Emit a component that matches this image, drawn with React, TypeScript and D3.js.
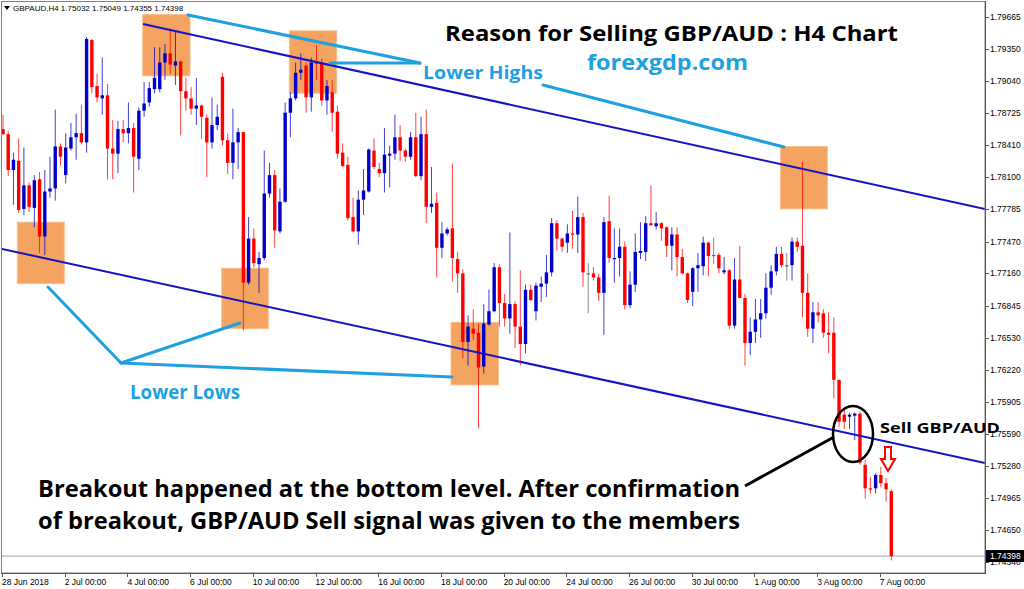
import React from 'react';
import * as d3 from 'd3';

// GBPAUD H4 bars (index 0 = 28 Jun 2018 ... 170 = 7 Aug 2018 08:00)
const opens = [
  1.7857,1.7852,1.7817,1.7826,1.7779,1.7802,1.7780,1.7808,1.7752,1.7796,
  1.7799,1.7840,1.7812,1.7838,1.7849,1.7853,1.7844,1.7944,1.7899,1.7887,
  1.7890,1.7838,1.7833,1.7857,1.7853,1.7858,1.7828,1.7875,1.7883,1.7896,
  1.7896,1.7922,1.7931,1.7919,1.7923,1.7894,1.7887,1.7877,1.7880,1.7868,
  1.7844,1.7861,1.7908,1.7846,1.7824,1.7844,1.7854,1.7707,1.7750,1.7725,
  1.7731,1.7794,1.7812,1.7757,1.7786,1.7873,1.7887,1.7912,1.7919,1.7888,
  1.7923,1.7922,1.7885,1.7893,1.7874,1.7834,1.7822,1.7771,1.7757,1.7788,
  1.7796,1.7836,1.7818,1.7814,1.7831,1.7833,1.7849,1.7836,1.7830,1.7849,
  1.7811,1.7852,1.7781,1.7785,1.7741,1.7755,1.7760,1.7730,1.7716,1.7649,
  1.7662,1.7658,1.7625,1.7666,1.7679,1.7722,1.7687,1.7672,1.7686,1.7664,
  1.7647,1.7700,1.7679,1.7703,1.7706,1.7717,1.7765,1.7750,1.7746,1.7755,
  1.7754,1.7771,1.7716,1.7716,1.7712,1.7697,1.7767,1.7730,1.7731,1.7742,
  1.7685,1.7705,1.7736,1.7737,1.7765,1.7762,1.7765,1.7761,1.7743,1.7754,
  1.7732,1.7716,1.7698,1.7721,1.7723,1.7746,1.7734,1.7734,1.7717,1.7719,
  1.7665,1.7710,1.7692,1.7648,1.7659,1.7671,1.7677,1.7702,1.7718,1.7735,
  1.7724,1.7724,1.7747,1.7743,1.7697,1.7662,1.7678,1.7677,1.7658,1.7658,
  1.7612,1.7578,1.7576,1.7577,1.7579,1.7529,1.7506,1.7506,1.7519,1.7511,1.75032,
];
const highs = [
  1.7871,1.7855,1.7834,1.7848,1.7839,1.7805,1.7812,1.7815,1.7817,1.7830,
  1.7876,1.7843,1.7853,1.7863,1.7872,1.7881,1.7947,1.7945,1.7911,1.7927,
  1.7901,1.7866,1.7865,1.7866,1.7883,1.7863,1.7878,1.7903,1.7903,1.7937,
  1.7937,1.7940,1.7955,1.7952,1.7924,1.7907,1.7898,1.7907,1.7881,1.7871,
  1.7888,1.7881,1.7912,1.7853,1.7877,1.7858,1.7854,1.7771,1.7760,1.7737,
  1.7836,1.7824,1.7817,1.7799,1.7883,1.7893,1.7922,1.7931,1.7922,1.7927,
  1.7939,1.7926,1.7905,1.7905,1.7880,1.7843,1.7830,1.7790,1.7797,1.7818,
  1.7838,1.7848,1.7824,1.7858,1.7841,1.7871,1.7861,1.7838,1.7854,1.7873,
  1.7869,1.7876,1.7820,1.7795,1.7766,1.7761,1.7823,1.7737,1.7720,1.7675,
  1.7681,1.7667,1.7686,1.7700,1.7726,1.7725,1.7696,1.7756,1.7689,1.7719,
  1.7705,1.7705,1.7707,1.7713,1.7734,1.7770,1.7768,1.7751,1.7764,1.7777,
  1.7791,1.7775,1.7726,1.7722,1.7716,1.7771,1.7792,1.7760,1.7760,1.7747,
  1.7718,1.7755,1.7766,1.7772,1.7802,1.7776,1.7766,1.7762,1.7761,1.7761,
  1.7740,1.7717,1.7722,1.7736,1.7752,1.7747,1.7751,1.7736,1.7732,1.7720,
  1.7731,1.7743,1.7696,1.7673,1.7691,1.7691,1.7716,1.7724,1.7742,1.7742,
  1.7736,1.7751,1.7751,1.7825,1.7716,1.7688,1.7688,1.7681,1.7678,1.7673,
  1.7612,1.7583,1.7580,1.7580,1.7581,1.7534,1.7517,1.7521,1.7527,1.7516,1.75049,
];
const lows = [
  1.7851,1.7811,1.7783,1.7775,1.7773,1.7776,1.7761,1.7736,1.7734,1.7790,
  1.7787,1.7821,1.7804,1.7836,1.7827,1.7842,1.7834,1.7892,1.7883,1.7871,
  1.7808,1.7808,1.7814,1.7844,1.7843,1.7795,1.7817,1.7869,1.7879,1.7892,
  1.7893,1.7905,1.7911,1.7900,1.7851,1.7875,1.7871,1.7861,1.7847,1.7810,
  1.7838,1.7856,1.7841,1.7813,1.7808,1.7818,1.7660,1.7705,1.7722,1.7697,
  1.7729,1.7790,1.7741,1.7755,1.7785,1.7849,1.7885,1.7905,1.7873,1.7874,
  1.7905,1.7880,1.7871,1.7854,1.7828,1.7820,1.7768,1.7756,1.7744,1.7773,
  1.7795,1.7818,1.7810,1.7795,1.7800,1.7827,1.7826,1.7825,1.7827,1.7810,
  1.7807,1.7765,1.7775,1.7712,1.7731,1.7753,1.7708,1.7697,1.7633,1.7626,
  1.7651,1.7565,1.7618,1.7665,1.7678,1.7664,1.7664,1.7657,1.7643,1.7626,
  1.7638,1.7689,1.7670,1.7688,1.7693,1.7713,1.7738,1.7737,1.7736,1.7740,
  1.7736,1.7703,1.7677,1.7709,1.7689,1.7656,1.7726,1.7707,1.7713,1.7681,
  1.7682,1.7698,1.7730,1.7728,1.7763,1.7759,1.7748,1.7732,1.7719,1.7713,
  1.7715,1.7687,1.7684,1.7698,1.7714,1.7713,1.7725,1.7716,1.7715,1.7662,
  1.7662,1.7692,1.7626,1.7636,1.7648,1.7653,1.7672,1.7695,1.7714,1.7722,
  1.7709,1.7709,1.7737,1.7673,1.7654,1.7648,1.7668,1.7653,1.7638,1.7594,
  1.7566,1.7564,1.7564,1.7553,1.7529,1.7496,1.7501,1.7501,1.7507,1.7493,1.74355,
];
const closes = [
  1.7852,1.7817,1.7827,1.7778,1.7802,1.7781,1.7807,1.7752,1.7796,1.7799,
  1.7840,1.7830,1.7839,1.7849,1.7853,1.7844,1.7945,1.7898,1.7888,1.7890,
  1.7838,1.7833,1.7857,1.7853,1.7858,1.7830,1.7875,1.7882,1.7897,1.7907,
  1.7922,1.7931,1.7920,1.7923,1.7894,1.7887,1.7877,1.7880,1.7869,1.7844,
  1.7861,1.7869,1.7846,1.7824,1.7844,1.7854,1.7707,1.7750,1.7726,1.7731,
  1.7794,1.7812,1.7758,1.7786,1.7873,1.7887,1.7912,1.7915,1.7888,1.7922,
  1.7921,1.7885,1.7899,1.7873,1.7833,1.7821,1.7770,1.7757,1.7788,1.7797,
  1.7837,1.7820,1.7814,1.7832,1.7833,1.7849,1.7836,1.7830,1.7849,1.7811,
  1.7852,1.7781,1.7784,1.7741,1.7755,1.7759,1.7731,1.7716,1.7649,1.7664,
  1.7657,1.7624,1.7667,1.7679,1.7722,1.7687,1.7672,1.7686,1.7664,1.7647,
  1.7700,1.7690,1.7704,1.7706,1.7717,1.7765,1.7750,1.7742,1.7755,1.7754,
  1.7771,1.7717,1.7716,1.7712,1.7697,1.7766,1.7731,1.7731,1.7742,1.7685,
  1.7705,1.7737,1.7738,1.7765,1.7763,1.7765,1.7760,1.7743,1.7754,1.7732,
  1.7716,1.7690,1.7721,1.7724,1.7746,1.7733,1.7734,1.7721,1.7719,1.7665,
  1.7710,1.7692,1.7648,1.7659,1.7671,1.7677,1.7702,1.7718,1.7735,1.7724,
  1.7724,1.7747,1.7742,1.7697,1.7662,1.7678,1.7675,1.7658,1.7656,1.7612,
  1.7571,1.7571,1.7578,1.7579,1.7531,1.7506,1.7505,1.7519,1.7511,1.7505,1.74398,
];

const timeTickBars = [0, 12, 24, 36, 48, 60, 72, 84, 96, 108, 120, 132, 144, 156, 168];
const timeTickLabels = [
  '28 Jun 2018', '2 Jul 00:00', '4 Jul 00:00', '6 Jul 00:00', '10 Jul 00:00',
  '12 Jul 00:00', '16 Jul 00:00', '18 Jul 00:00', '20 Jul 00:00', '24 Jul 00:00',
  '26 Jul 00:00', '30 Jul 00:00', '1 Aug 00:00', '3 Aug 00:00', '7 Aug 00:00',
];
const priceTicks = [
  1.79665, 1.7935, 1.7904, 1.78725, 1.7841, 1.781, 1.77785, 1.7747, 1.7716,
  1.76845, 1.7653, 1.7622, 1.75905, 1.7559, 1.7528, 1.74965, 1.7465, 1.7434,
];
const lastPrice = 1.74398;
const headerText = 'GBPAUD,H4  1.75032 1.75049 1.74355 1.74398';

// annotation rectangles: [bar start, bar end, price top, price bottom]
const zoneBoxes = [
  [2.74, 11.73, 1.7766, 1.7706],
  [26.74, 35.79, 1.7969, 1.7909],
  [54.8, 63.87, 1.7953, 1.7892],
  [41.86, 50.78, 1.7721, 1.7662],
  [85.74, 94.8, 1.7668, 1.7607],
  [148.77, 157.76, 1.784, 1.7779],
];
// channel lines: [bar, price, bar, price]
const channelLines = [
  [26.79, 1.79597, 187.94, 1.77789],
  [-0.574, 1.77403, 187.94, 1.75307],
];

const BLUE = '#0000c8';
const RED = '#ff0000';
const LIGHT = '#1fa0e0';
const CHAN = '#1414c4';

export default function App() {
  const W = 1024, H = 589;
  const plotR = 985, plotB = 573;
  const x = d3.scaleLinear().domain([0, 170]).range([3, 891.3]);
  const y = d3.scaleLinear().domain([1.7434, 1.79665]).range([562, 17]);
  const bodyW = 3.4;

  const bars = d3.range(Math.min(opens.length, highs.length, lows.length, closes.length));

  return (
    <div style={{ position: 'absolute', left: 0, top: 0, width: W, height: H, background: '#fff' }}>
      <svg width={W} height={H} style={{ display: 'block' }} fontFamily="'Liberation Sans', Arial, sans-serif">
        <defs>
          <clipPath id="plot">
            <rect x={1.5} y={1.5} width={plotR - 1.5} height={plotB - 1.5} />
          </clipPath>
        </defs>
        <rect x={0} y={0} width={W} height={H} fill="#fff" />

        <g clipPath="url(#plot)">
          {zoneBoxes.map((b, i) => (
            <rect key={'z' + i} x={x(b[0])} y={y(b[2])} width={x(b[1]) - x(b[0])} height={y(b[3]) - y(b[2])}
              fill="#f4a460" stroke="#f6c090" strokeWidth={1} />
          ))}

          {/* last price line */}
          <line x1={0} x2={plotR} y1={y(lastPrice)} y2={y(lastPrice)} stroke="#a0a0a8" strokeWidth={1} />

          {bars.map((i) => {
            const o = opens[i], c = closes[i], h = highs[i], l = lows[i];
            const col = c > o ? BLUE : c < o ? RED : '#666';
            const cx = x(i);
            const top = y(Math.max(o, c));
            const bh = Math.max(1.2, y(Math.min(o, c)) - top);
            return (
              <g key={'b' + i}>
                <line x1={cx} x2={cx} y1={y(h)} y2={y(l)} stroke={col} strokeWidth={1} strokeOpacity={0.75} />
                <rect x={cx - bodyW / 2} y={top} width={bodyW} height={bh} fill={col} />
              </g>
            );
          })}

          {channelLines.map((c, i) => (
            <line key={'c' + i} x1={x(c[0])} y1={y(c[1])} x2={x(c[2])} y2={y(c[3])} stroke={CHAN} strokeWidth={2} />
          ))}

          {/* light blue pointer lines */}
          <g stroke={LIGHT} strokeWidth={3} strokeLinecap="round" fill="none">
            <line x1={188} y1={15} x2={420} y2={63} />
            <line x1={330} y1={63} x2={420} y2={63} />
            <line x1={543} y1={85} x2={784} y2={147} />
            <line x1={48} y1={287} x2={121} y2={363} />
            <line x1={121} y1={363} x2={240} y2={323} />
            <line x1={121} y1={363} x2={452} y2={377} />
          </g>
        </g>

        {/* frame */}
        <rect x={1.5} y={1.5} width={plotR - 1.5} height={plotB - 1.5} fill="none" stroke="#808080" strokeWidth={1} />
        <line x1={plotR + 0.5} x2={plotR + 0.5} y1={1} y2={plotB + 1} stroke="#555" strokeWidth={1} />
        <line x1={1} x2={plotR + 1} y1={plotB + 0.5} y2={plotB + 0.5} stroke="#555" strokeWidth={1} />

        {/* header */}
        <path d="M4,6 L10,6 L7,10 Z" fill="#000" />
        <text x={13} y={11} fontSize={8} fill="#000">{headerText}</text>

        {/* price axis */}
        {priceTicks.map((p, i) => (
          <g key={'p' + i}>
            <line x1={plotR} x2={plotR + 4} y1={Math.round(y(p)) + 0.5} y2={Math.round(y(p)) + 0.5} stroke="#555" />
            <text x={plotR + 5} y={y(p) + 3} fontSize={8.5} fill="#000">{p.toFixed(5)}</text>
          </g>
        ))}
        <rect x={plotR + 1} y={y(lastPrice) - 6} width={W - plotR - 1} height={12} fill="#000" />
        <text x={plotR + 5} y={y(lastPrice) + 3} fontSize={8.5} fill="#fff">{lastPrice.toFixed(5)}</text>

        {/* time axis */}
        {timeTickBars.map((b, i) => (
          <g key={'t' + i}>
            <line x1={Math.round(x(b)) - 0.5} x2={Math.round(x(b)) - 0.5} y1={plotB} y2={plotB + 4} stroke="#555" />
            <text x={x(b) - 1} y={585} fontSize={8.5} fill="#000">{timeTickLabels[i]}</text>
          </g>
        ))}

        {/* annotations */}
        <ellipse cx={853} cy={434} rx={20} ry={28} fill="none" stroke="#000" strokeWidth={2.5} />
        <line x1={745} y1={486} x2={834} y2={437} stroke="#000" strokeWidth={3} />
        <polygon points="885,447 891,447 891,459 895,459 888,471 881,459 885,459" fill="#fff" stroke={RED} strokeWidth={2} strokeLinejoin="miter" />

        <g fontFamily="'Open Sans', 'Liberation Sans', sans-serif" fontWeight={700}>
          <text x={445} y={41} fontSize={22} fill="#000" textLength={453} lengthAdjust="spacingAndGlyphs">Reason for Selling GBP/AUD : H4 Chart</text>
          <text x={587} y={70} fontSize={21} fill={LIGHT} textLength={161} lengthAdjust="spacingAndGlyphs">forexgdp.com</text>
          <text x={423} y={79} fontSize={18} fill={LIGHT} textLength={120} lengthAdjust="spacingAndGlyphs">Lower Highs</text>
          <text x={130} y={399} fontSize={19} fill={LIGHT} textLength={110} lengthAdjust="spacingAndGlyphs">Lower Lows</text>
          <text x={880} y={433} fontSize={15} fill="#000" textLength={120} lengthAdjust="spacingAndGlyphs">Sell GBP/AUD</text>
          <text x={38} y={497} fontSize={23} fill="#000" textLength={702} lengthAdjust="spacingAndGlyphs">Breakout happened at the bottom level. After confirmation</text>
          <text x={38} y={529} fontSize={23} fill="#000" textLength={702} lengthAdjust="spacingAndGlyphs">of breakout, GBP/AUD Sell signal was given to the members</text>
        </g>
      </svg>
    </div>
  );
}
